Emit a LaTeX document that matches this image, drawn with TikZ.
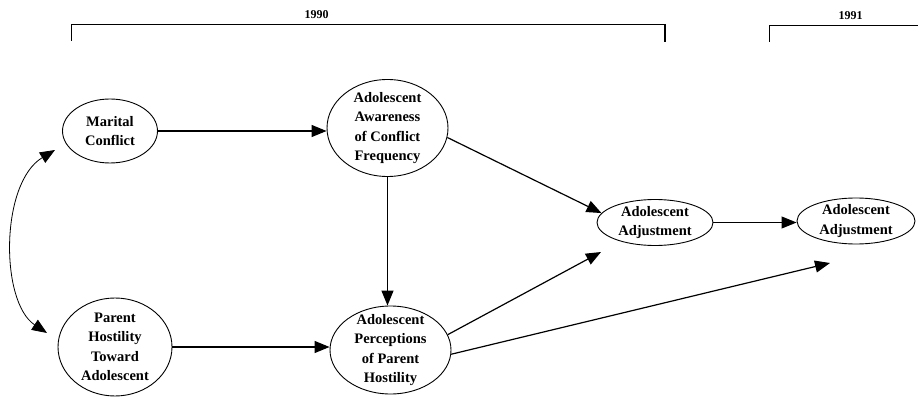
\documentclass[tikz,border=0pt]{standalone}
\usepackage{fontspec}
\setmainfont{Liberation Serif}
\usetikzlibrary{shapes.geometric,arrows.meta}
\begin{document}
\begin{tikzpicture}[x=1pt,y=-1pt,
  var/.style={ellipse,draw,line width=0.9pt,inner sep=-10pt,align=center,
    font=\bfseries\fontsize{14.5}{19.5}\selectfont},
  tipA/.tip={Triangle[length=15pt,width=12pt]},
  pathway/.style={line width=1.2pt,-tipA},
  yr/.style={font=\bfseries\fontsize{12}{14}\selectfont,anchor=base,inner sep=0pt},
  bracket/.style={line width=0.8pt}]
\useasboundingbox (0,0) rectangle (918,398);

% year brackets
\node[yr] (y90) at (316.5,19) {1990};
\node[yr] (y91) at (850.5,20) {1991};
\coordinate (b1) at (71,41);
\coordinate (b2) at (71,24);
\coordinate (b3) at (665,24);
\coordinate (b4) at (665,42);
\draw[bracket] (b1) -- (b2) -- (b3);
\draw[line width=2pt] (b3) -- (b4);
\coordinate (d1) at (769,42);
\coordinate (d2) at (769,25);
\coordinate (d3) at (918,25);
\draw[bracket] (d1) -- (d2) -- (d3);

% variables
\node[var,minimum width=95pt,minimum height=64pt] (MC) at (110,131) {Marital\\Conflict};
\node[var,minimum width=114pt,minimum height=98pt] (PH) at (115,347) {Parent\\Hostility\\Toward\\Adolescent};
\node[var,minimum width=121pt,minimum height=97pt] (AW) at (387.5,128) {Adolescent\\Awareness\\of Conflict\\Frequency};
\node[var,minimum width=121pt,minimum height=88pt] (PP) at (390.5,350) {Adolescent\\Perceptions\\of Parent\\Hostility};
\node[var,minimum width=116pt,minimum height=46pt] (A1) at (655,222.5) {Adolescent\\Adjustment};
\node[var,minimum width=118pt,minimum height=46pt] (A2) at (856,221) {Adolescent\\Adjustment};

% paths
\draw[pathway] (MC.east) -- (MC.east -| AW.west);
\draw[pathway] (PH.east) -- (PH.east -| PP.west);
\draw[pathway] (AW.south) -- (AW.south |- PP.north);
\draw[pathway] (AW.-9) -- (A1.170);
\coordinate (t1) at (601,252);
\draw[pathway] (PP.15) -- (t1);
\coordinate (t2) at (830,263);
\draw[pathway] (PP.-4) -- (t2);
\draw[pathway,line width=0.9pt] (A1.east) -- (A1.east -| A2.west);

% correlation
\coordinate (c1) at (55,150);
\coordinate (c2) at (47,333);
\draw[line width=0.8pt,tipA-tipA] (c1) .. controls (0,183) and (0,302) .. (c2);
\end{tikzpicture}
\end{document}
